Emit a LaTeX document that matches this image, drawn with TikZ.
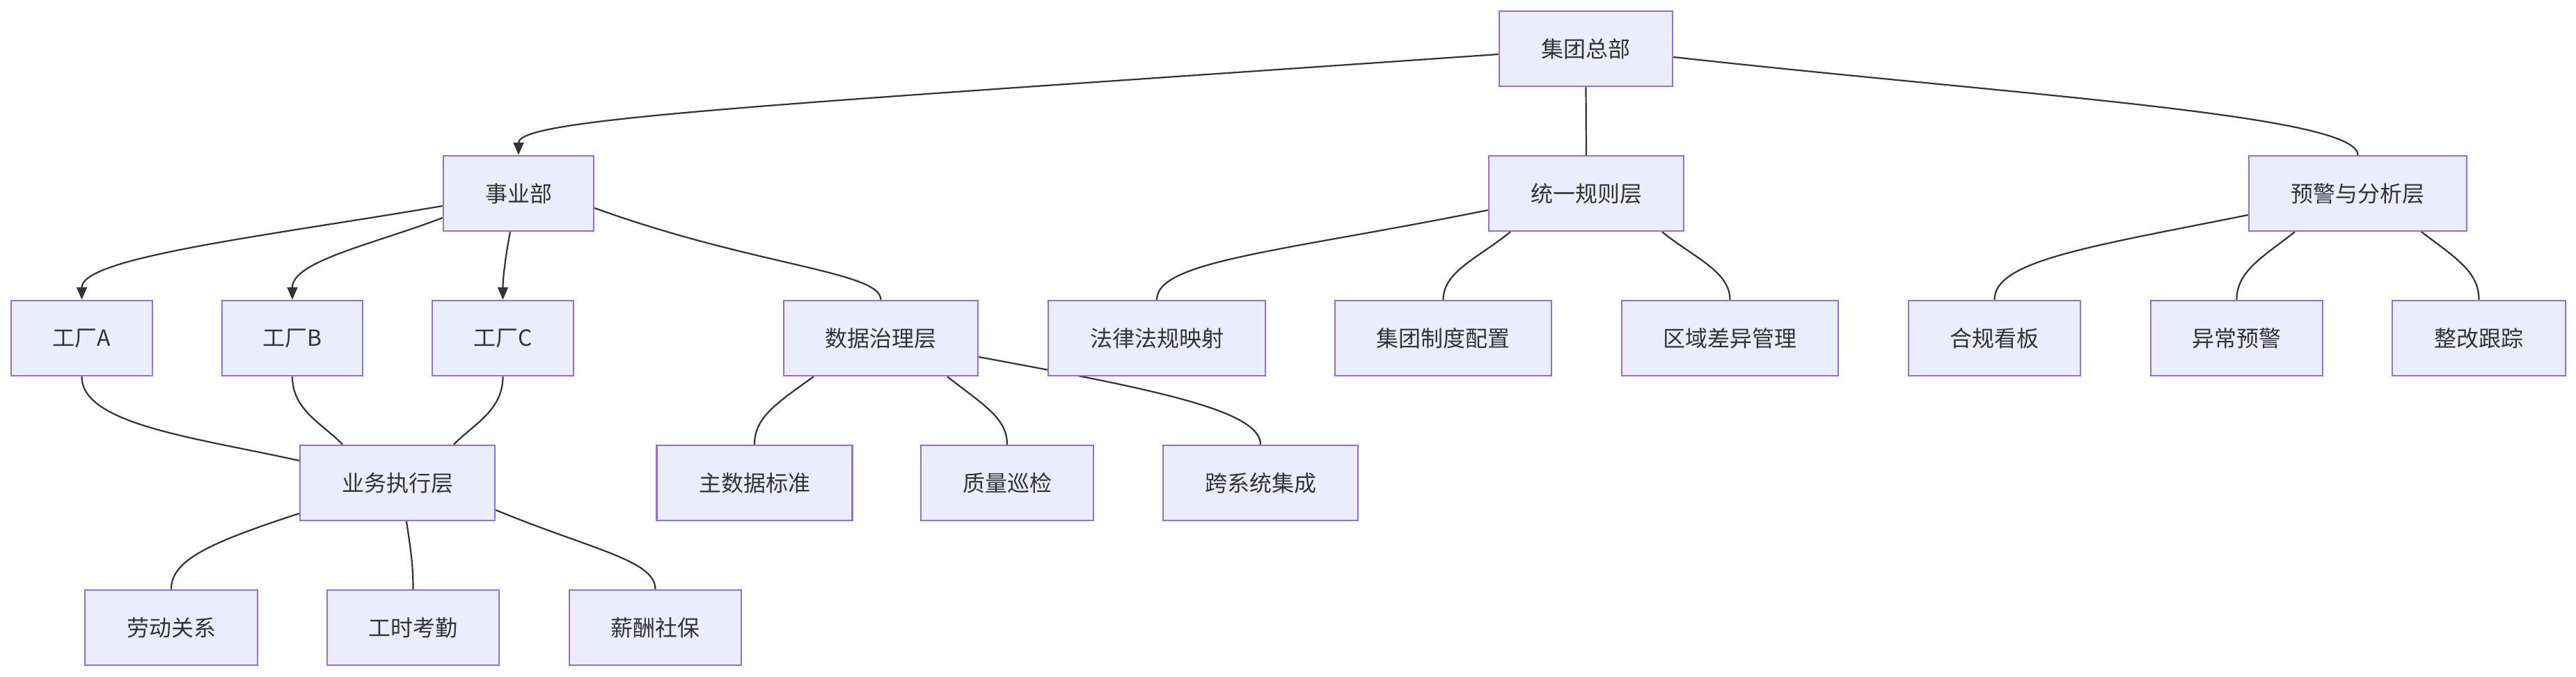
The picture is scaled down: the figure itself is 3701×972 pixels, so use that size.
\documentclass[tikz,border=0pt]{standalone}
\usepackage{fontspec}
\setmainfont{Noto Sans CJK SC}
\usetikzlibrary{arrows.meta,calc}
\pgfdeclarelayer{bg}
\pgfdeclarelayer{edges}
\pgfsetlayers{bg,edges,main}
\definecolor{boxfill}{HTML}{ECECFF}
\definecolor{boxline}{HTML}{9370DB}
\definecolor{ink}{HTML}{333333}
\tikzset{
  box/.style={draw=boxline, fill=boxfill, line width=2.5pt, minimum height=108pt,
    inner sep=0pt, text=ink, font=\fontsize{32pt}{38pt}\selectfont},
  link/.style={draw=ink, line width=2.2pt},
  arrowlink/.style={link, -{Triangle[length=18pt,width=15pt]}},
}
\begin{document}
\begin{tikzpicture}[x=1pt,y=-1pt]
\begin{pgfonlayer}{bg}
\fill[white] (0,0) rectangle (3701,972);
\end{pgfonlayer}
\useasboundingbox (0,0) rectangle (3701,972);
% level 0
\node[box, minimum width=249pt] (hq) at (2278.5,70) {集团总部};
% level 1
\node[box, minimum width=216pt] (syb) at (745,278) {事业部};
\node[box, minimum width=280pt] (rule) at (2279,278) {统一规则层};
\node[box, minimum width=313pt] (warn) at (3387.5,278) {预警与分析层};
% level 2
\node[box, minimum width=203pt] (fA) at (117.5,486) {工厂A};
\node[box, minimum width=202pt] (fB) at (420,486) {工厂B};
\node[box, minimum width=203pt] (fC) at (722.5,486) {工厂C};
\node[box, minimum width=279pt] (dg) at (1265.5,486) {数据治理层};
\node[box, minimum width=312pt] (law) at (1662,486) {法律法规映射};
\node[box, minimum width=311pt] (grp) at (2073.5,486) {集团制度配置};
\node[box, minimum width=311pt] (reg) at (2485.5,486) {区域差异管理};
\node[box, minimum width=247pt] (kb) at (2865.5,486) {合规看板};
\node[box, minimum width=247pt] (yc) at (3213.5,486) {异常预警};
\node[box, minimum width=249pt] (zg) at (3561.5,486) {整改跟踪};
% level 3
\node[box, minimum width=280pt] (biz) at (571,694) {业务执行层};
\node[box, minimum width=281pt] (mdm) at (1084,694) {主数据标准};
\node[box, minimum width=248pt] (qc) at (1447,694) {质量巡检};
\node[box, minimum width=280pt] (kx) at (1811,694) {跨系统集成};
% level 4
\node[box, minimum width=248pt] (ld) at (246,902) {劳动关系};
\node[box, minimum width=247pt] (gs) at (593.5,902) {工时考勤};
\node[box, minimum width=247pt] (xc) at (941.5,902) {薪酬社保};

\begin{pgfonlayer}{edges}
% from HQ
\draw[arrowlink] ([yshift=-8pt]hq.west) .. controls (1100,151.5) and (745,170) .. (syb.north);
\draw[link] (hq.south) -- (rule.north);
\draw[link] ([yshift=-12pt]hq.east) .. controls (2900,137) and (3387.5,165) .. (warn.north);
% from 事业部
\draw[arrowlink] ([yshift=-18pt]syb.west) .. controls (377,340) and (117.5,370) .. (fA.north);
\draw[arrowlink] ([yshift=-35pt]syb.west) .. controls (540,350) and (420,375) .. (fB.north);
\draw[arrowlink] ([xshift=-12pt]syb.south) .. controls (726,370) and (722.5,400) .. (fC.north);
\draw[link] ([yshift=-21pt]syb.east) .. controls (1083,382) and (1265.5,390) .. (dg.north);
% from 统一规则层
\draw[link] ([yshift=-24pt]rule.west) .. controls (1839,362) and (1662,375) .. (law.north);
\draw[link] ([xshift=-109pt]rule.south) .. controls (2125,370) and (2073.5,390) .. (grp.north);
\draw[link] ([xshift=109pt]rule.south) .. controls (2433,370) and (2485.5,390) .. (reg.north);
% from 预警与分析层
\draw[link] ([yshift=-31pt]warn.west) .. controls (3000,355) and (2865.5,375) .. (kb.north);
\draw[link] ([xshift=-90.5pt]warn.south) .. controls (3250,370) and (3213.5,390) .. (yc.north);
\draw[link] ([xshift=91.5pt]warn.south) .. controls (3527,370) and (3561.5,390) .. (zg.north);
% from 数据治理层
\draw[link] ([xshift=-96.5pt]dg.south) .. controls (1115,580) and (1084,600) .. (mdm.north);
\draw[link] ([xshift=95.5pt]dg.south) .. controls (1410,580) and (1447,600) .. (qc.north);
\draw[link] ([yshift=-27pt]dg.east) .. controls (1660,560) and (1811,590) .. (kx.north);
% factories to 业务执行层
\draw[link] (fA.south) .. controls (117.5,610) and (281,629) .. ([yshift=32pt]biz.west);
\draw[link] (fB.south) .. controls (420,590) and (465,610) .. ([xshift=-79pt]biz.north);
\draw[link] (fC.south) .. controls (722.5,590) and (680,610) .. ([xshift=81pt]biz.north);
% from 业务执行层
\draw[link] ([yshift=-44pt]biz.west) .. controls (301,780) and (246,805) .. (ld.north);
\draw[link] ([xshift=13pt]biz.south) .. controls (590,790) and (593.5,810) .. (gs.north);
\draw[link] ([yshift=-39pt]biz.east) .. controls (850,790) and (941.5,805) .. (xc.north);
\end{pgfonlayer}
\end{tikzpicture}
\end{document}
